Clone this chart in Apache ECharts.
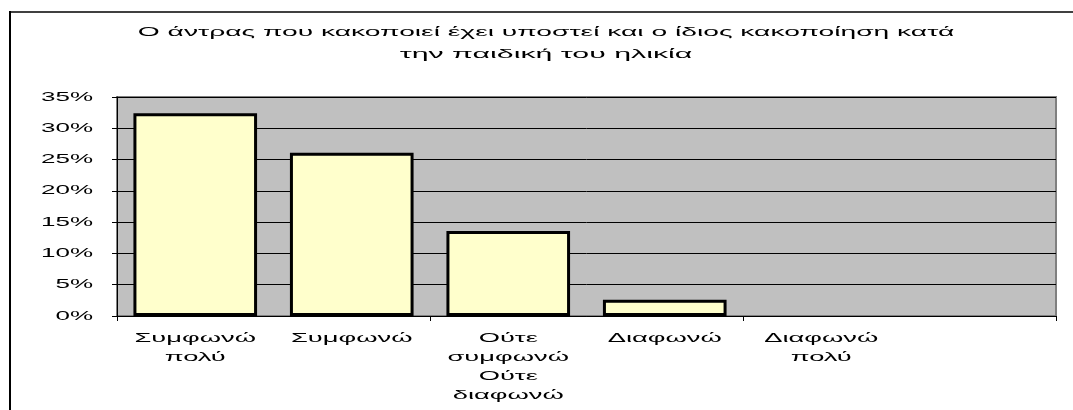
<!DOCTYPE html>
<html>
<head>
<meta charset="utf-8">
<script src="https://cdn.jsdelivr.net/npm/echarts@6/dist/echarts.min.js"></script>
<style>
  html, body { margin: 0; padding: 0; background: #fff; }
  #chart { width: 1073px; height: 410px; }
</style>
</head>
<body>
<div id="chart"></div>
<script>
// κατηγορίες (η τελευταία θέση είναι κενή, όπως στο πρωτότυπο)
const categories = ["Συμφωνώ πολύ", "Συμφωνώ", "Ούτε συμφωνώ Ούτε διαφωνώ", "Διαφωνώ", "Διαφωνώ πολύ", ""];
const values = [32.4, 26.1, 13.6, 2.6, 0, null]; // ποσοστά %
const yTicks = [0, 5, 10, 15, 20, 25, 30, 35];
const titleLines = [
  "Ο άντρας που κακοποιεί έχει υποστεί και ο ίδιος κακοποίηση κατά",
  "την παιδική του ηλικία",
];

const font = "Liberation Sans, Arial, sans-serif";
const gridLeft = 117;
const chart = echarts.init(document.getElementById("chart"));

// οι γραμματοσειρές του πρωτοτύπου είναι "τεντωμένες" οριζόντια
const stretchTitle = [2.17, 2.33];
const stretchX = 2.1;
const stretchY = 2.0;

const option = {
  animation: false,
  grid: {
    left: gridLeft,
    right: 17,
    top: 97,
    bottom: 94,
    show: true,
    backgroundColor: "#c0c0c0",
    borderColor: "#808080",
    borderWidth: 2,
  },
  xAxis: {
    type: "category",
    data: categories,
    axisLine: { show: true, lineStyle: { color: "#000", width: 1 } },
    axisTick: { show: true, length: 5, lineStyle: { color: "#000" } },
    axisLabel: { show: false },
  },
  yAxis: {
    type: "value",
    min: 0,
    max: 35,
    interval: 5,
    axisLine: { show: true, lineStyle: { color: "#000", width: 1 } },
    axisTick: { show: true, length: 5, lineStyle: { color: "#000" } },
    axisLabel: { show: false },
    splitLine: { show: true, lineStyle: { color: "#000", width: 1 } },
  },
  series: [
    {
      type: "bar",
      // μηδενική μπάρα χωρίς περίγραμμα, όπως στο πρωτότυπο
      data: values.map((v) => (v === 0 ? { value: 0, itemStyle: { borderWidth: 0 } } : v)),
      barCategoryGap: "21%",
      itemStyle: {
        color: "#ffffcc",
        borderColor: "#000",
        borderWidth: 3,
      },
    },
  ],
};
chart.setOption(option);

// κείμενα (τίτλος, ετικέτες αξόνων) ως graphic για να μπορούν να τεντωθούν
function stretchedText(x, y, text, scaleX, align, vAlign, extra) {
  return {
    type: "text",
    x: x,
    y: y,
    scaleX: scaleX,
    silent: true,
    style: Object.assign({
      x: 0,
      y: 0,
      text: text,
      fill: "#000",
      font: "13px " + font,
      align: align,
      verticalAlign: vAlign,
    }, extra || {}),
  };
}

const graphics = [
  // εξωτερικό πλαίσιο (κόβεται δεξιά/κάτω)
  { type: "line", shape: { x1: 9, y1: 12, x2: 1073, y2: 12 }, style: { stroke: "#404040", lineWidth: 2 } },
  { type: "line", shape: { x1: 10, y1: 11, x2: 10, y2: 410 }, style: { stroke: "#000", lineWidth: 2 } },
];

// τίτλος
titleLines.forEach((line, i) => {
  graphics.push(stretchedText(546, 32 + i * 22, line, stretchTitle[i], "center", "middle"));
});

// ετικέτες άξονα Y
yTicks.forEach((v) => {
  const py = chart.convertToPixel({ yAxisIndex: 0 }, v);
  graphics.push(stretchedText(gridLeft - 24, py, v + "%", stretchY, "right", "middle"));
});

// ετικέτες άξονα X
const axisY = chart.convertToPixel({ yAxisIndex: 0 }, 0);
categories.forEach((c, i) => {
  if (!c) return;
  const px = chart.convertToPixel({ xAxisIndex: 0 }, i);
  graphics.push(stretchedText(px, axisY + 13, c.split(" ").join("\n"), stretchX, "center", "top", { lineHeight: 19 }));
});

chart.setOption({ graphic: graphics });
</script>
</body>
</html>
